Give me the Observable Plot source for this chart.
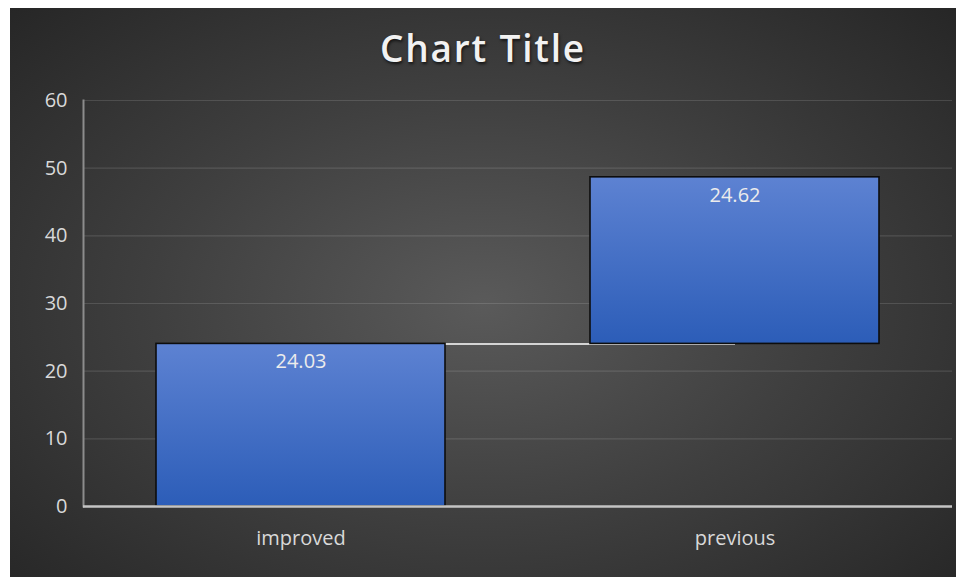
<!DOCTYPE html>
<html>
<head>
<meta charset="utf-8">
<script src="https://cdn.jsdelivr.net/npm/d3@7"></script>
<script src="https://cdn.jsdelivr.net/npm/@observablehq/plot@0.6"></script>
<style>
  html, body { margin: 0; padding: 0; background: #ffffff; width: 956px; height: 577px; overflow: hidden; }
  #chart {
    position: absolute; left: 10px; top: 8px; width: 946px; height: 569px;
    background: radial-gradient(ellipse 70% 75% at 50% 52%, #5a5a5a 0%, #3f3f3f 50%, #262626 100%);
    font-family: "Open Sans", sans-serif;
  }
  #title {
    height: 70px; line-height: 80px; text-align: center; overflow: visible;
    font-size: 37px; font-weight: 600; color: #f2f2f2; letter-spacing: 1.8px;
    text-shadow: 1px 2px 3px rgba(0,0,0,0.65);
  }
  #plot svg { display: block; overflow: visible; }
</style>
</head>
<body>
<div id="chart">
  <div id="title">Chart Title</div>
  <div id="plot"></div>
</div>
<script>
const categories = ["improved", "previous"];
const values = [24.03, 24.62];
const yTicks = [0, 10, 20, 30, 40, 50, 60];

let acc = 0;
const data = categories.map((c, i) => {
  const start = acc;
  acc += values[i];
  return { cat: c, start, end: acc, value: values[i] };
});
const connectors = data.slice(0, -1).map((d, i) => ({ from: d.cat, to: data[i + 1].cat, y: d.end }));

const svg = Plot.plot({
  width: 946,
  height: 499,
  marginTop: 22,
  marginBottom: 71,
  marginLeft: 73,
  marginRight: 4,
  style: { background: "transparent", color: "#d9d9d9", fontFamily: "Open Sans, sans-serif", fontSize: "20px" },
  x: { domain: categories, paddingInner: 0.334, paddingOuter: 0.168, label: null, tickSize: 0, tickPadding: 24 },
  y: { domain: [0, 60], ticks: yTicks, label: null, axis: null },
  marks: [
    Plot.ruleY(yTicks.filter(t => t > 0), { stroke: "#ffffff", strokeOpacity: 0.13, strokeWidth: 1.2 }),
    Plot.axisY(yTicks, { tickSize: 0, tickPadding: 16, label: null, fontSize: 20 }),
    Plot.frame({ anchor: "left", stroke: "#8c8c8c", strokeWidth: 2 }),
    Plot.link(connectors, { x1: "from", x2: "to", y1: "y", y2: "y", stroke: "#d4d4d4", strokeWidth: 2 }),
    Plot.barY(data, { x: "cat", y1: "start", y2: "end", fill: "url(#barGrad)", stroke: "#0d0d0d", strokeWidth: 1.6 }),
    Plot.ruleY([0], { stroke: "#c4c4c4", strokeWidth: 2.5 }),
    Plot.text(data, { x: "cat", y: "end", text: d => d.value.toFixed(2), dy: 18, fill: "#ececec", fontSize: 20 })
  ]
});

const defs = d3.select(svg).insert("defs", ":first-child");
const g = defs.append("linearGradient").attr("id", "barGrad").attr("x1", 0).attr("y1", 0).attr("x2", 0).attr("y2", 1);
g.append("stop").attr("offset", "0%").attr("stop-color", "#5d82d2");
g.append("stop").attr("offset", "100%").attr("stop-color", "#2c5db8");

document.getElementById("plot").appendChild(svg);
</script>
</body>
</html>
